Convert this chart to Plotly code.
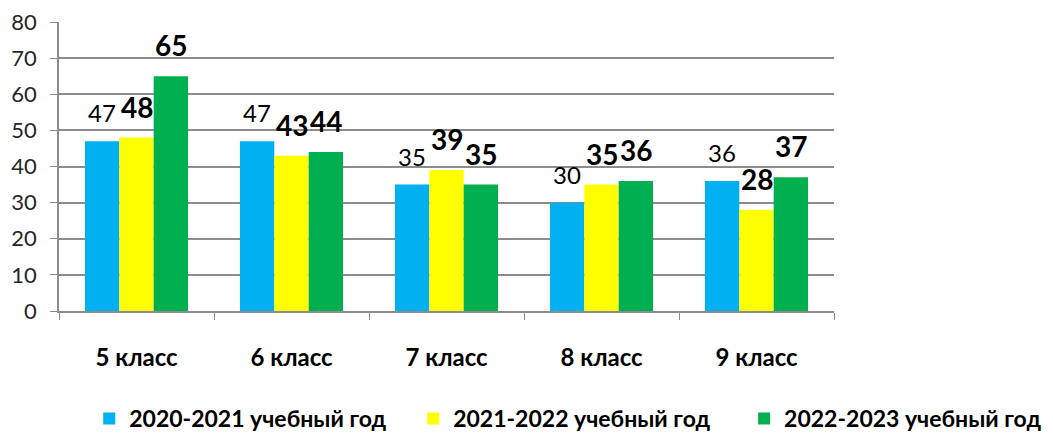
import plotly.graph_objects as go

grades = ["5 класс", "6 класс", "7 класс", "8 класс", "9 класс"]
y2020 = [47, 47, 35, 30, 36]
y2021 = [48, 43, 39, 35, 28]
y2022 = [65, 44, 35, 36, 37]

series = [
    ("2020-2021 учебный год", y2020, "#00B0F0"),
    ("2021-2022 учебный год", y2021, "#FFFF00"),
    ("2022-2023 учебный год", y2022, "#00B050"),
]
legend_x = [0.039, 0.457, 0.884]

FONT = "Lato"
bar_px = 34.5  # width of one bar in pixels, used to place the value labels

fig = go.Figure()
for i, (name, vals, col) in enumerate(series):
    fig.add_trace(go.Bar(
        x=grades, y=vals, name=name,
        marker=dict(color=col, line=dict(width=0)),
        legend="legend" if i == 0 else f"legend{i + 1}",
    ))

# value labels above each bar
annos = []
for i, (name, vals, col) in enumerate(series):
    for g, v in zip(grades, vals):
        bold = i > 0
        annos.append(dict(
            x=g, y=v, xref="x", yref="y",
            text=f"<b>{v}</b>" if bold else str(v),
            showarrow=False, yanchor="bottom",
            xshift=(i - 1) * bar_px, yshift=12,
            font=dict(family=FONT, size=28 if bold else 24, color="#000000"),
        ))

leg_style = dict(
    orientation="h", xanchor="left", y=-0.372, yanchor="middle",
    font=dict(family=FONT, size=23, color="#000000", weight="bold"),
    itemclick=False, bgcolor="rgba(0,0,0,0)",
)

# the page body adds an 8px margin, so the figure is a little smaller than the window
fig.update_layout(
    width=1045, height=426,
    margin=dict(l=51, r=219, t=14, b=123, autoexpand=False),
    paper_bgcolor="white", plot_bgcolor="white",
    barmode="group", bargap=0.335, bargroupgap=0,
    annotations=annos,
    showlegend=True,
    legend=dict(x=legend_x[0], **leg_style),
    legend2=dict(x=legend_x[1], **leg_style),
    legend3=dict(x=legend_x[2], **leg_style),
    font=dict(family=FONT),
)

fig.update_yaxes(
    range=[0, 80], dtick=10,
    showgrid=True, gridcolor="#8C8C8C", gridwidth=1.5,
    showline=True, linecolor="#8C8C8C", linewidth=1.5,
    ticks="outside", ticklen=7, tickcolor="#8C8C8C",
    tickfont=dict(family=FONT, size=22, color="#262626"),
    ticklabelstandoff=9, ticklabeloverflow="allow",
    zeroline=False,
)
fig.update_xaxes(
    showline=True, linecolor="#8C8C8C", linewidth=1.5,
    ticks="outside", ticklen=7, tickcolor="#8C8C8C", tickson="boundaries",
    tickfont=dict(family=FONT, size=24, color="#000000", weight="bold"),
    ticklabelstandoff=24,
)

fig.write_html("out.html")
